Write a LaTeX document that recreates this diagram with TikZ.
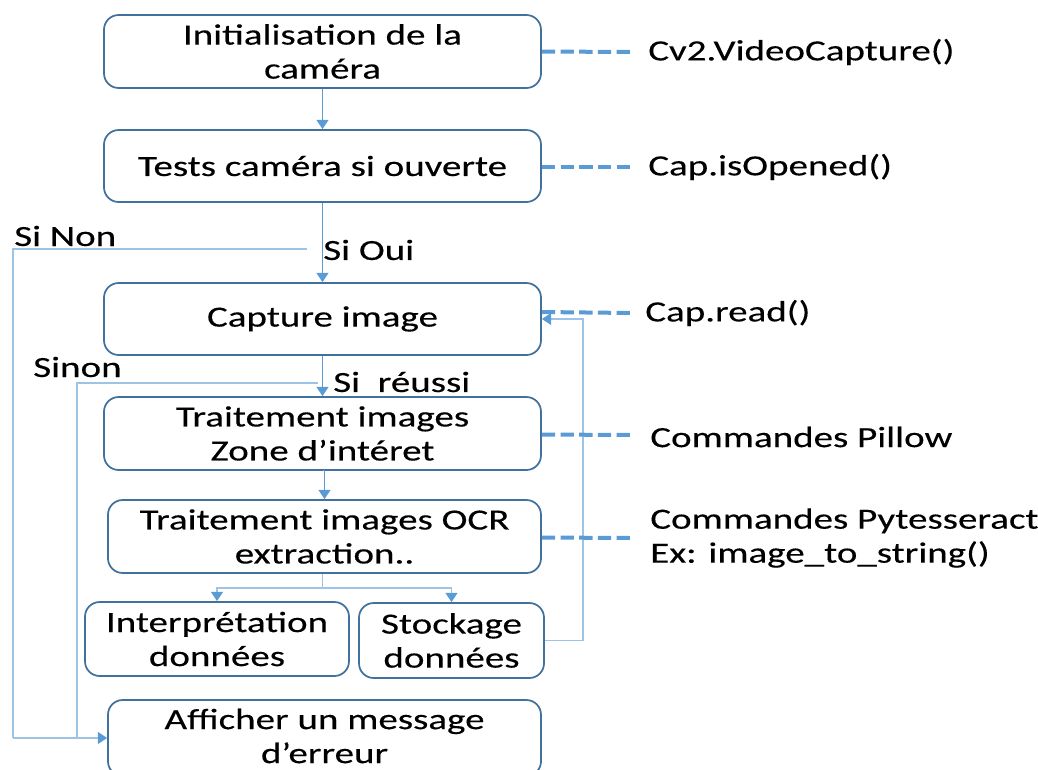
\documentclass[tikz,border=0pt]{standalone}
\usepackage{fontspec}
\setmainfont{Carlito}[FakeStretch=1.33,FakeBold=0.25]
\usetikzlibrary{arrows.meta,calc}
\definecolor{boxline}{HTML}{41719C}
\definecolor{arrowc}{HTML}{5B9BD5}
\definecolor{loopc}{HTML}{9DC3E6}
\tikzset{
  stepbox/.style={draw=boxline, line width=1.3pt, rounded corners=11pt, align=center,
    inner sep=0pt, font=\fontsize{22}{25.5}\selectfont},
  lbl/.style={anchor=west, inner sep=0pt, font=\fontsize{22}{25.5}\selectfont},
  arr/.style={draw=arrowc, line width=0.8pt, -{Triangle[length=7pt,width=9pt]}},
  loopl/.style={draw=loopc, line width=1.1pt},
  looparr/.style={draw=loopc, line width=1.1pt, -{Triangle[length=7pt,width=9pt,fill=arrowc,color=arrowc]}},
  dashl/.style={draw=arrowc, line width=3pt, dash pattern=on 10pt off 4pt},
}
\begin{document}
\begin{tikzpicture}[x=0.75pt,y=-0.75pt]
\useasboundingbox (0,0) rectangle (1038,769);
\clip (0,0) rectangle (1038,769);
% boxes
\node[stepbox, minimum width=437*0.75pt, minimum height=73*0.75pt] (init) at (322.5,51.5) {Initialisation de la\\caméra};
\node[stepbox, minimum width=437*0.75pt, minimum height=72*0.75pt] (tests) at (322.5,166) {Tests caméra si ouverte};
\node[stepbox, minimum width=437*0.75pt, minimum height=72*0.75pt] (capture) at (322.5,319) {Capture image};
\node[stepbox, minimum width=437*0.75pt, minimum height=73*0.75pt] (zone) at (322.5,433.5) {Traitement images\\Zone d’intéret};
\node[stepbox, minimum width=433*0.75pt, minimum height=73*0.75pt] (ocr) at (324.5,536.5) {Traitement images OCR\\extraction..};
\node[stepbox, minimum width=264*0.75pt, minimum height=74*0.75pt] (interp) at (217,639) {Interprétation\\données};
\node[stepbox, minimum width=185*0.75pt, minimum height=75*0.75pt] (stock) at (451.5,640.5) {Stockage\\données};
\node[stepbox, minimum width=433*0.75pt, minimum height=76*0.75pt, text depth=0pt] (aff) at (324.5,738) {Afficher un message\\d’erreur\vspace{3pt}};
% labels
\node[lbl] (lsinon1) at (14,236) {Si Non};
\node[lbl] (lsioui) at (323,250) {Si Oui};
\node[lbl] (lsinon2) at (33,367) {Sinon};
\node[lbl] (lsireussi) at (333,382) {Si\ \ réussi};
\node[lbl] (c1) at (648,52) {Cv2.VideoCapture()};
\node[lbl] (c2) at (648,167) {Cap.isOpened()};
\node[lbl] (c3) at (645,313) {Cap.read()};
\node[lbl] (c4) at (650,437) {Commandes Pillow};
\node[lbl, align=left] (c5) at (650,538) {Commandes Pytesseract\\Ex: image\_to\_string()};
% main arrows
\draw[arr] (init.south) -- (tests.north);
\draw[arr] (tests.south) -- (capture.north);
\draw[arr] (capture.south) -- (zone.north);
\draw[arr] (zone.south) -- (ocr.south |- zone.south) -- (ocr.north);
\coordinate (split) at (322.5,588);
\draw[loopl] (ocr.south -| split) -- (split);
\draw[looparr] (split) -| (interp.north);
\draw[looparr] (split) -| (stock.north);
% error paths
\coordinate (nonA) at (307,249);
\coordinate (nonB) at (318,383);
\draw[loopl] (nonA) -- (13,249) -- (13,738);
\draw[looparr] (13,738) -- (aff.west);
\draw[loopl] (nonB) -- (77,383) -- (77,738);
% feedback loop
\draw[looparr] (stock.east) -- (583,640.5) |- (capture.east);
% dashed links
\draw[dashl] (init.east) -- (632,52);
\draw[dashl] ($(tests.east)+(0,1)$) -- (632,167);
\draw[dashl] ($(capture.east)+(0,-7)$) -- (632,313);
\draw[dashl] ($(zone.east)+(0,1)$) -- (632,435);
\draw[dashl] ($(ocr.east)+(0,1)$) -- (632,538);
\end{tikzpicture}
\end{document}
